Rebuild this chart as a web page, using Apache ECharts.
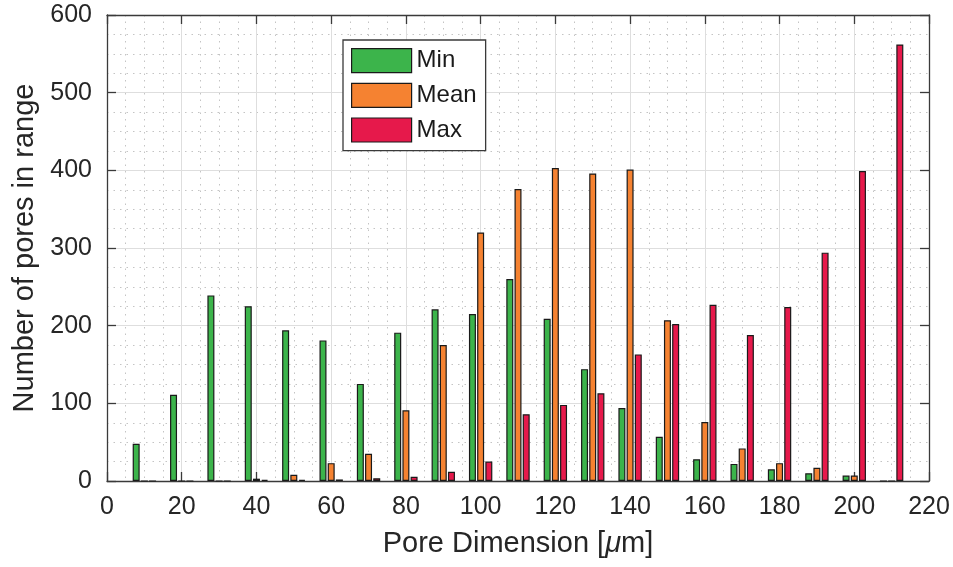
<!DOCTYPE html>
<html>
<head>
<meta charset="utf-8">
<script src="https://cdn.jsdelivr.net/npm/echarts@6/dist/echarts.min.js"></script>
<style>
  html, body { margin: 0; padding: 0; background: #ffffff; }
  #chart { width: 953px; height: 567px; }
</style>
</head>
<body>
<div id="chart"></div>
<script>
// Pore-size histogram: number of pores per 10 µm bin for the Min / Mean / Max dimension
const binCenters = [10, 20, 30, 40, 50, 60, 70, 80, 90, 100, 110, 120, 130, 140, 150, 160, 170, 180, 190, 200, 210];
const minCounts  = [48, 111, 239, 225, 194, 181, 125, 191, 221, 215, 260, 209, 144, 94, 57, 28, 22, 15, 10, 7, 0];
const meanCounts = [0, 0, 0, 3, 8, 23, 35, 91, 175, 320, 376, 403, 396, 401, 207, 76, 42, 23, 17, 7, 0];
const maxCounts  = [0, 0, 0, 1.5, 1.5, 2, 3.5, 5.5, 12, 25, 86, 98, 113, 163, 202, 227, 188, 224, 294, 399, 562];

const seriesNames = ['Min', 'Mean', 'Max'];
const seriesColors = ['#3cb44b', '#f58231', '#e6194b'];

const xTicks = { min: 0, max: 220, step: 20 };
const yTicks = { min: 0, max: 600, step: 100 };

const FONT = '"Liberation Sans", Arial, Helvetica, sans-serif';
const INK = '#262626';
const AXIS = '#3a3a3a';

function pairs(values) {
  return binCenters.map((x, i) => [x, values[i]]);
}

const chart = echarts.init(document.getElementById('chart'), null, { renderer: 'canvas' });

const boxAxisLine = { show: true, onZero: false, lineStyle: { color: AXIS, width: 1.3 } };
const boxTick = { show: true, inside: true, length: 9, lineStyle: { color: AXIS, width: 1.3 } };
const majorGrid = { show: true, lineStyle: { color: '#dedede', width: 1 } };
const minorGrid = { show: true, lineStyle: { color: '#c4c4c4', width: 1, type: [1.5, 5] } };

const option = {
  backgroundColor: '#ffffff',
  animation: false,
  textStyle: { fontFamily: FONT, color: INK },
  grid: { left: 107, right: 24, top: 15, bottom: 86, containLabel: false },
  legend: {
    orient: 'vertical',
    left: 343,
    top: 40,
    itemWidth: 60,
    itemHeight: 24,
    itemGap: 9.5,
    padding: [8, 9, 8, 8],
    backgroundColor: '#ffffff',
    borderColor: AXIS,
    borderWidth: 1.3,
    borderRadius: 0,
    icon: 'rect',
    itemStyle: { borderColor: '#1a1a1a', borderWidth: 1.2 },
    textStyle: { fontFamily: FONT, fontSize: 24, color: '#1a1a1a', padding: [0, 0, 0, 0] },
    data: seriesNames
  },
  xAxis: [
    {
      type: 'value',
      position: 'bottom',
      min: xTicks.min, max: xTicks.max, interval: xTicks.step,
      name: 'Pore Dimension [{mu|μ}m]',
      nameLocation: 'middle',
      nameGap: 48,
      nameTextStyle: {
        fontFamily: FONT, fontSize: 29, color: INK,
        rich: { mu: { fontFamily: FONT, fontSize: 29, fontStyle: 'italic', color: INK } }
      },
      axisLine: boxAxisLine,
      axisTick: boxTick,
      axisLabel: { margin: 14, fontSize: 25, color: INK, fontFamily: FONT },
      splitLine: majorGrid,
      minorTick: { show: false, splitNumber: 4 },
      minorSplitLine: minorGrid
    },
    {
      type: 'value',
      position: 'top',
      min: xTicks.min, max: xTicks.max, interval: xTicks.step,
      axisLine: boxAxisLine,
      axisTick: boxTick,
      axisLabel: { show: false },
      splitLine: { show: false }
    }
  ],
  yAxis: [
    {
      type: 'value',
      position: 'left',
      min: yTicks.min, max: yTicks.max, interval: yTicks.step,
      name: 'Number of pores in range',
      nameLocation: 'middle',
      nameGap: 63,
      nameTextStyle: { fontFamily: FONT, fontSize: 29, color: INK },
      axisLine: boxAxisLine,
      axisTick: boxTick,
      axisLabel: { margin: 15, fontSize: 25, color: INK, fontFamily: FONT },
      splitLine: majorGrid,
      minorTick: { show: false, splitNumber: 4 },
      minorSplitLine: minorGrid
    },
    {
      type: 'value',
      position: 'right',
      min: yTicks.min, max: yTicks.max, interval: yTicks.step,
      axisLine: boxAxisLine,
      axisTick: boxTick,
      axisLabel: { show: false },
      splitLine: { show: false }
    }
  ],
  series: [minCounts, meanCounts, maxCounts].map((values, i) => ({
    name: seriesNames[i],
    type: 'bar',
    xAxisIndex: 0,
    yAxisIndex: 0,
    barWidth: 7,
    barGap: '17%',
    itemStyle: { color: seriesColors[i], borderColor: '#1a1a1a', borderWidth: 1.2 },
    data: pairs(values)
  }))
};

chart.setOption(option);
</script>
</body>
</html>
